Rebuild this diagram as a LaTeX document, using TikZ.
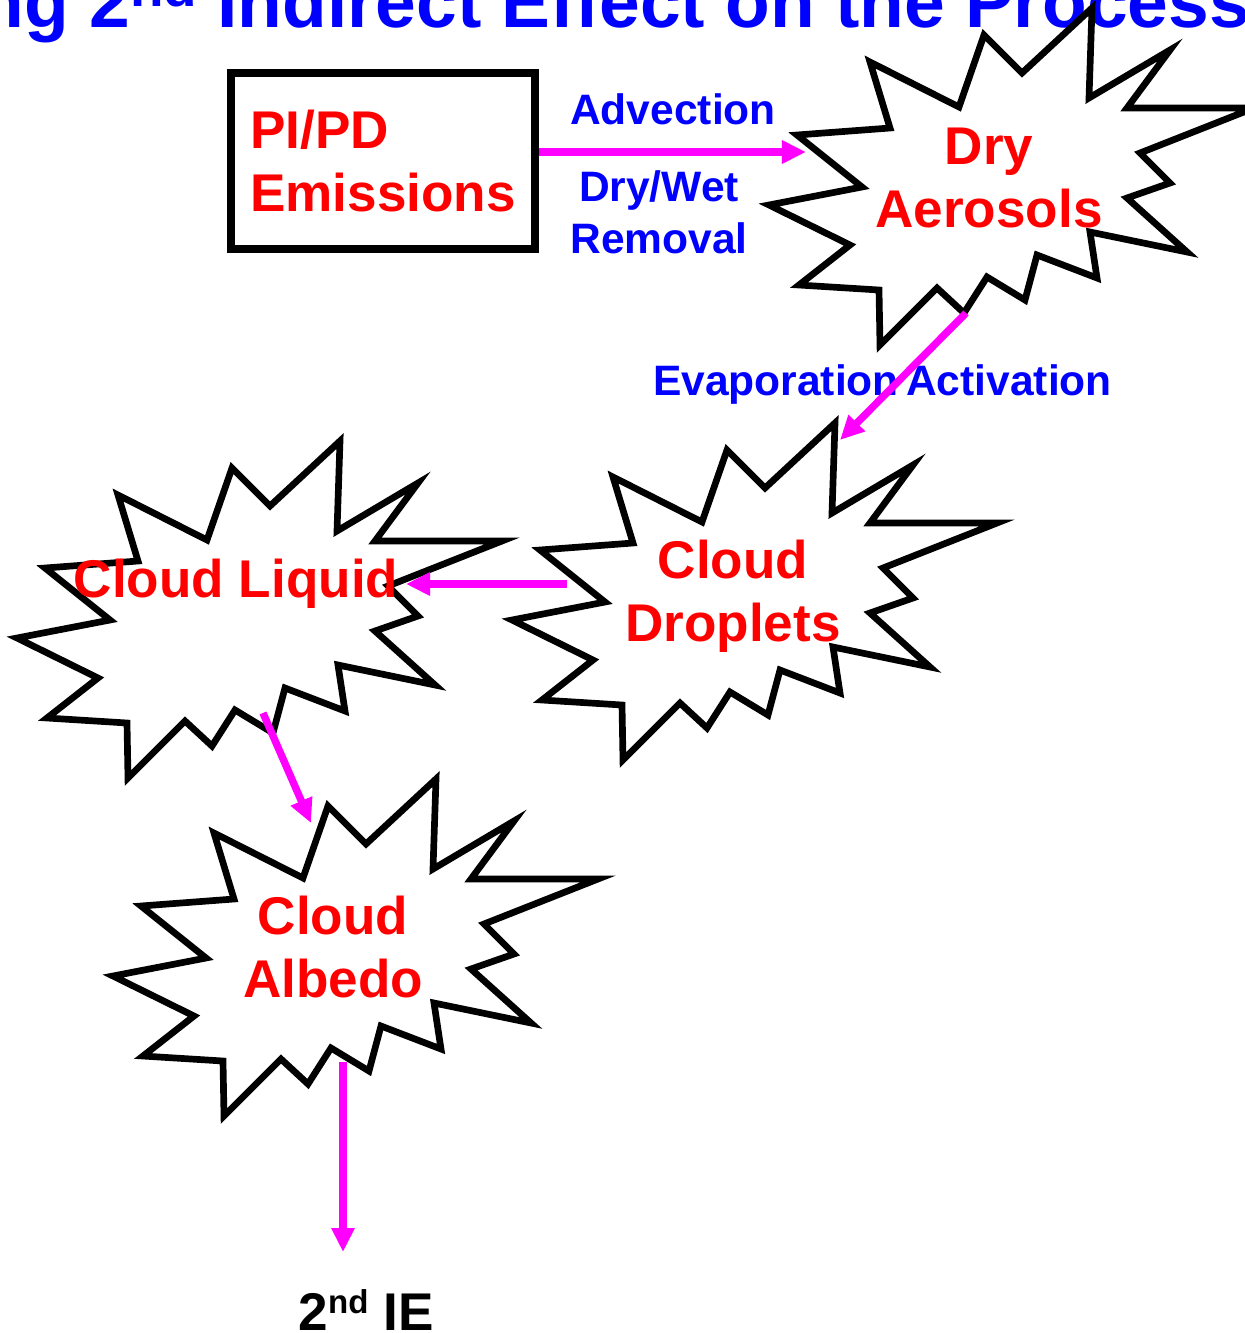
\documentclass[tikz,border=0pt]{standalone}
\usepackage{fontspec}
\setmainfont{Liberation Sans}
\usetikzlibrary{arrows.meta}

\definecolor{flowmag}{RGB}{255,0,255}

% explosion outline round a centre point
\newcommand{\burstat}[1]{%
  \draw[burst,shift={(#1)}] (102,-172) -- (32,-107) -- (-6,-145) -- (-31,-73)
    -- (-120,-118) -- (-100,-52) -- (-193,-45) -- (-128,7) -- (-221,25)
    -- (-140,65) -- (-191,105) -- (-111,110) -- (-110,165) -- (-53,108)
    -- (-26,133) -- (-3,97) -- (35,120) -- (47,75) -- (107,98) -- (100,52)
    -- (197,72) -- (137,18) -- (180,3) -- (150,-27) -- (264,-72) -- (137,-72)
    -- (180,-130) -- (99,-82) -- cycle;}

\begin{document}
\begin{tikzpicture}[x=0.01cm,y=-0.01cm,
    burst/.style={draw=black,line width=1.9pt,line join=miter},
    thing/.style={text=red,font=\fontsize{15.1}{17.9}\selectfont\bfseries,
      align=center,inner sep=0pt},
    proc/.style={text=blue,font=\fontsize{12.1}{14.8}\selectfont\bfseries,
      align=center,inner sep=0pt},
    flow/.style={draw=flowmag,line width=2.1pt,
      -{Triangle[length=0.24cm,width=0.22cm]}}]
  \useasboundingbox (0,0) rectangle (1244,1333);

  \node[anchor=base west,inner sep=0pt,text=blue,
    font=\fontsize{20.8}{20.8}\selectfont\bfseries] (title) at (-21,27)
    {ng 2\raisebox{5.7pt}{\fontsize{15.6}{15.6}\selectfont nd} Indirect Effect on the Process};

  \burstat{990,180}
  \burstat{733,595}
  \burstat{238,613}
  \burstat{334,951}

  \node[draw=black,line width=2.3pt,minimum width=3.04cm,minimum height=1.76cm,
    inner sep=0pt,text=red,font=\fontsize{15.1}{17.9}\selectfont\bfseries,
    align=left] (emis) at (383,161) {PI/PD\\Emissions};

  \node[thing] (dry) at (989,178) {Dry\\Aerosols};
  \node[thing] (drop) at (733,596) {Cloud\\Droplets};
  \node[thing] (liq) at (236,584) {Cloud Liquid};
  \node[thing] (alb) at (333,947) {Cloud\\Albedo};

  \node[proc,anchor=base] (adv) at (673,124) {Advection};
  \node[proc] (rem) at (659,212) {Dry/Wet\\Removal};
  \node[proc,anchor=base] (evap) at (776,395) {Evaporation};
  \node[proc,anchor=base] (act) at (1009,395) {Activation};

  \node[anchor=base west,inner sep=0pt,
    font=\fontsize{15.1}{15.1}\selectfont\bfseries] (ie) at (298,1330)
    {2\raisebox{4.8pt}{\fontsize{9.4}{9.4}\selectfont nd} IE};

  \coordinate (advtip) at (806,152);
  \coordinate (dryout) at (966,313);
  \coordinate (dropin) at (840,440);
  \coordinate (dropout) at (567,584);
  \coordinate (liqin) at (406,584);
  \coordinate (liqout) at (263,713);
  \coordinate (albin) at (311,823);
  \coordinate (albout) at (343,1062);
  \coordinate (ietip) at (343,1252);

  \draw[flow] (emis.east |- advtip) -- (advtip);
  \draw[flow] (dryout) -- (dropin);
  \draw[flow] (dropout) -- (liqin);
  \draw[flow] (liqout) -- (albin);
  \draw[flow] (albout) -- (ietip);
\end{tikzpicture}
\end{document}
